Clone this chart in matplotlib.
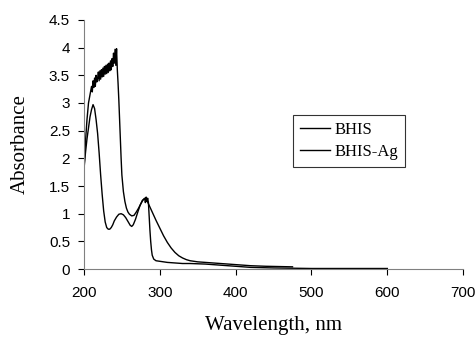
import matplotlib
matplotlib.use("Agg")
from matplotlib import pyplot as plt

# BHIS-Ag (noisy band up to ~4 at 240 nm, sharp cutoff at ~288 nm)
wl_ag = [200, 202, 204, 206, 208, 210, 211, 212, 213, 214, 215, 216, 217, 218, 219, 220,
         221, 222, 223, 224, 225, 226, 227, 228, 229, 230, 231, 232, 233, 234, 235, 236,
         237, 238, 239, 240, 241, 242, 243, 244, 245, 246, 247, 248, 249, 250, 252, 254,
         256, 258, 260, 263, 266, 269, 272, 275, 278, 280, 281, 282, 283, 284, 285, 286,
         287, 288, 289, 290, 292, 295, 300, 310, 320, 330, 340, 360, 380, 400, 420, 450,
         500, 550, 600]
abs_ag = [1.79, 2.3, 2.7, 3.0, 3.15, 3.3, 3.2, 3.4, 3.28, 3.45, 3.3, 3.5, 3.38, 3.45, 3.56, 3.4,
          3.58, 3.43, 3.6, 3.47, 3.63, 3.48, 3.66, 3.52, 3.68, 3.53, 3.7, 3.55, 3.72, 3.58, 3.76, 3.6,
          3.8, 3.66, 3.9, 3.72, 3.97, 3.68, 3.98, 3.6, 3.35, 3.05, 2.7, 2.35, 2.0, 1.7, 1.4, 1.22,
          1.1, 1.03, 0.99, 0.96, 0.97, 1.03, 1.1, 1.18, 1.25, 1.28, 1.2, 1.3, 1.22, 1.28, 1.2, 0.95,
          0.7, 0.5, 0.35, 0.25, 0.18, 0.15, 0.14, 0.12, 0.11, 0.1, 0.1, 0.09, 0.07, 0.05, 0.03, 0.02,
          0.01, 0.01, 0.01]

# BHIS (smooth)
wl_bhis = [200, 202, 204, 206, 208, 210, 212, 214, 216, 218, 220, 222, 224, 226, 228, 230,
           232, 234, 236, 238, 240, 243, 246, 249, 252, 255, 258, 261, 263, 265, 268, 271,
           274, 277, 280, 283, 286, 290, 295, 300, 305, 310, 315, 320, 325, 330, 335, 340,
           350, 360, 380, 400, 420, 440, 475]
abs_bhis = [1.8, 2.1, 2.35, 2.55, 2.75, 2.88, 2.97, 2.9, 2.7, 2.45, 2.1, 1.7, 1.35, 1.05, 0.85, 0.75,
            0.72, 0.72, 0.75, 0.8, 0.87, 0.94, 0.99, 1.0, 0.98, 0.93, 0.86, 0.79, 0.77, 0.8, 0.9, 1.03,
            1.15, 1.24, 1.27, 1.24, 1.15, 1.03, 0.88, 0.74, 0.6, 0.48, 0.38, 0.3, 0.24, 0.2, 0.17, 0.15,
            0.13, 0.12, 0.1, 0.08, 0.06, 0.05, 0.04]

fig = plt.figure(figsize=(4.77, 3.38), dpi=100)
ax = fig.add_axes([0.176, 0.204, 0.795, 0.737])

ax.plot(wl_bhis, abs_bhis, color="black", lw=1.0, label="BHIS")
ax.plot(wl_ag, abs_ag, color="black", lw=1.0, label="BHIS-Ag")

ax.set_xlim(200, 700)
ax.set_ylim(0, 4.5)
ax.set_xticks([200, 300, 400, 500, 600, 700])
ax.set_yticks([0, 0.5, 1, 1.5, 2, 2.5, 3, 3.5, 4, 4.5])
ax.set_yticklabels(["0", "0.5", "1", "1.5", "2", "2.5", "3", "3.5", "4", "4.5"])
ax.tick_params(axis="both", direction="out", length=4, width=0.8, labelsize=11,
               colors="black")
ax.tick_params(axis="x", pad=8)
ax.tick_params(axis="y", pad=6)
for lab in ax.get_xticklabels() + ax.get_yticklabels():
    lab.set_family("Liberation Sans")

ax.spines["top"].set_visible(False)
ax.spines["right"].set_visible(False)
ax.spines["left"].set_color("#808080")
ax.spines["bottom"].set_color("#808080")

ax.set_xlabel("Wavelength, nm", family="Liberation Serif", fontsize=15, labelpad=12)
ax.set_ylabel("Absorbance", family="Liberation Serif", fontsize=15, labelpad=14)

leg = ax.legend(loc="upper left", bbox_to_anchor=(0.614, 0.660),
                bbox_transform=fig.transFigure, borderaxespad=0, fancybox=False,
                prop={"family": "Liberation Serif", "size": 12}, handlelength=1.8,
                handletextpad=0.3, borderpad=0.4, labelspacing=0.4)
leg.get_frame().set_edgecolor("black")
leg.get_frame().set_linewidth(0.8)

plt.savefig("out.png", dpi=100)
